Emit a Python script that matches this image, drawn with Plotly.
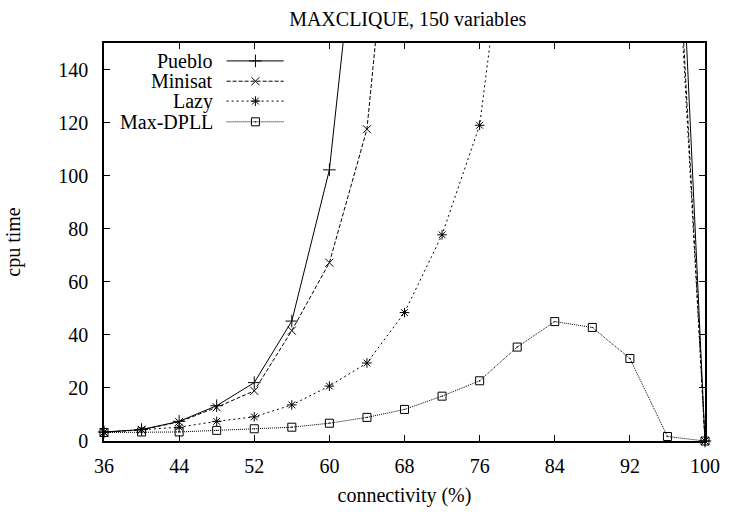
import plotly.graph_objects as go

# ---- data ----
title_text = "MAXCLIQUE, 150 variables"
x_ticks = [36, 44, 52, 60, 68, 76, 84, 92, 100]
y_ticks = [0, 20, 40, 60, 80, 100, 120, 140]

pueblo_x = [36, 40, 44, 48, 52, 56, 60, 64, 96, 100]
pueblo_y = [3.4, 4.3, 7.4, 13.3, 22.0, 45.2, 102.2, 233, 305, 0]

minisat_x = [36, 40, 44, 48, 52, 56, 60, 64, 68, 96, 100]
minisat_y = [3.3, 4.2, 7.2, 12.7, 18.9, 41.6, 67.2, 117.5, 262, 265, 0]

lazy_x = [36, 40, 44, 48, 52, 56, 60, 64, 68, 72, 76, 80, 96, 100]
lazy_y = [3.3, 4.3, 5.2, 7.4, 9.1, 13.6, 20.7, 29.4, 48.4, 77.7, 119.0, 230, 255, 0]

maxdpll_x = [36, 40, 44, 48, 52, 56, 60, 64, 68, 72, 76, 80, 84, 88, 92, 96, 100]
maxdpll_y = [3.2, 3.4, 3.4, 4.0, 4.6, 5.2, 6.7, 8.9, 11.9, 16.9, 22.7, 35.4, 45.0, 42.8, 31.1, 1.7, 0]

series_names = ["Pueblo", "Minisat", "Lazy", "Max-DPLL"]

# ---- styles ----
FONT = "Liberation Serif, Times New Roman, serif"
styles = [
    dict(dash="solid", symbol="cross-thin-open", size=9),
    dict(dash="4px,2px", symbol="x-thin-open", size=8),
    dict(dash="2px,3px", symbol="asterisk-open", size=8),
    dict(dash="1px,1px", symbol="square-open-dot", size=8),
]
series = [(pueblo_x, pueblo_y), (minisat_x, minisat_y), (lazy_x, lazy_y), (maxdpll_x, maxdpll_y)]

fig = go.Figure()
for (xs, ys), st, name in zip(series, styles, series_names):
    fig.add_trace(go.Scatter(
        x=xs, y=ys, mode="lines+markers", name=name, showlegend=False,
        line=dict(color="black", width=1, dash=st["dash"]),
        marker=dict(symbol=st["symbol"], size=st["size"], color="black",
                    line=dict(color="black", width=1)),
        cliponaxis=False,
    ))

# ---- custom legend (text on the left, sample on the right) ----
legend_rows = [0.955, 0.904, 0.854, 0.802]
sample_x0, sample_x1, sample_mid, text_right = 0.204, 0.299, 0.252, 0.185
for row, st, name in zip(legend_rows, styles, series_names):
    fig.add_trace(go.Scatter(
        x=[sample_x0, sample_x1], y=[row, row], mode="lines", xaxis="x2", yaxis="y2",
        showlegend=False, hoverinfo="skip",
        line=dict(color="black", width=1, dash=st["dash"]),
    ))
    fig.add_trace(go.Scatter(
        x=[sample_mid], y=[row], mode="markers", xaxis="x2", yaxis="y2",
        showlegend=False, hoverinfo="skip",
        marker=dict(symbol=st["symbol"], size=st["size"], color="black",
                    line=dict(color="black", width=1)),
    ))
    fig.add_annotation(x=text_right, y=row, xref="paper", yref="paper", text=name,
                       showarrow=False, xanchor="right", yanchor="middle",
                       font=dict(family=FONT, size=20, color="black"))

axis_common = dict(
    showline=True, linecolor="black", linewidth=1.5, mirror="ticks",
    ticks="inside", ticklen=6, tickwidth=1, tickcolor="black",
    showgrid=False, zeroline=False,
    tickfont=dict(family=FONT, size=20, color="black"),
)

fig.update_layout(
    width=732, height=515,
    margin=dict(l=102, r=18, t=43, b=69),
    paper_bgcolor="white", plot_bgcolor="white",
    font=dict(family=FONT, size=20, color="black"),
    title=dict(text=title_text, x=0.557, xanchor="center", y=0.963, yanchor="middle",
               yref="container", font=dict(family=FONT, size=20, color="black")),
    xaxis=dict(range=[36, 100], tickvals=x_ticks, ticklabelstandoff=6,
               title=dict(text="connectivity (%)", standoff=12,
                          font=dict(family=FONT, size=20)),
               **axis_common),
    yaxis=dict(range=[0, 150], tickvals=y_ticks, ticklabelstandoff=10,
               title=dict(text="cpu time", standoff=32,
                          font=dict(family=FONT, size=20)),
               **axis_common),
    xaxis2=dict(range=[0, 1], overlaying="x", visible=False, anchor="y2"),
    yaxis2=dict(range=[0, 1], overlaying="y", visible=False, anchor="x2"),
)

fig.write_html("out.html")
